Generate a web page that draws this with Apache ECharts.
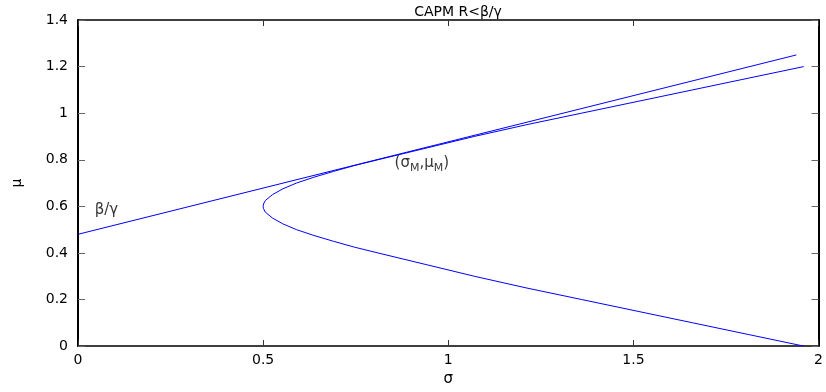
<!DOCTYPE html>
<html>
<head>
<meta charset="utf-8">
<script src="https://cdn.jsdelivr.net/npm/echarts@6/dist/echarts.min.js"></script>
<style>
  html, body { margin: 0; padding: 0; background: #fff; }
  #chart { width: 826px; height: 392px; }
</style>
</head>
<body>
<div id="chart"></div>
<script>
// efficient frontier (sigma, mu), lower branch first
const frontierSigma = [1.96, 1.81, 1.66, 1.51, 1.36, 1.21, 1.07, 0.94, 0.81, 0.746, 0.69, 0.637, 0.59, 0.553, 0.525, 0.506, 0.501, 0.50, 0.501, 0.506, 0.525, 0.553, 0.59, 0.637, 0.69, 0.746, 0.81, 0.94, 1.07, 1.21, 1.36, 1.51, 1.66, 1.81, 1.96];
const frontierMu    = [0.00, 0.05, 0.10, 0.15, 0.20, 0.25, 0.30, 0.35, 0.40, 0.425, 0.45, 0.475, 0.50, 0.525, 0.55, 0.575, 0.59, 0.60, 0.61, 0.625, 0.65, 0.675, 0.70, 0.725, 0.75, 0.775, 0.80, 0.85, 0.90, 0.95, 1.00, 1.05, 1.10, 1.15, 1.20];

// capital market line endpoints
const cmlSigma = [0, 1.94];
const cmlMu = [0.48, 1.25];

const xTicks = [0, 0.5, 1, 1.5, 2];
const yTicks = [0, 0.2, 0.4, 0.6, 0.8, 1, 1.2, 1.4];

// text annotations anchored in data units
const notes = [
  { text: "β/γ", sigma: 0.045, mu: 0.585 },
  { text: "(σ{s|M},μ{s|M})", sigma: 0.855, mu: 0.785 }
];

const font = "DejaVu Sans";
const chart = echarts.init(document.getElementById("chart"), null, { renderer: "canvas" });

const tickLabel = (v) => String(v);

const baseX = {
  type: "value",
  min: xTicks[0],
  max: xTicks[xTicks.length - 1],
  interval: 0.5,
  splitLine: { show: false },
  axisLine: { onZero: false, lineStyle: { color: "#000", width: 1.5 } },
  axisTick: { inside: true, length: 6, lineStyle: { color: "#333" } }
};
const baseY = {
  type: "value",
  min: yTicks[0],
  max: yTicks[yTicks.length - 1],
  interval: 0.2,
  splitLine: { show: false },
  axisLine: { onZero: false, lineStyle: { color: "#000", width: 2 } },
  axisTick: { inside: true, length: 7, lineStyle: { color: "#666" } }
};

chart.setOption({
  animation: false,
  backgroundColor: "#fff",
  title: {
    text: "CAPM R<β/γ",
    left: 453,
    top: 0,
    textAlign: "center",
    textStyle: { fontFamily: font, fontSize: 14, fontWeight: "normal", color: "#000" }
  },
  grid: { left: 78, right: 4, top: 20, bottom: 40 },
  xAxis: [
    Object.assign({}, baseX, {
      position: "bottom",
      name: "σ",
      nameLocation: "middle",
      nameGap: 22,
      nameTextStyle: { fontFamily: font, fontSize: 15, color: "#000" },
      axisLabel: { fontFamily: font, fontSize: 14, color: "#000", margin: 7, formatter: tickLabel }
    }),
    Object.assign({}, baseX, { position: "top", axisLabel: { show: false } })
  ],
  yAxis: [
    Object.assign({}, baseY, {
      position: "left",
      name: "μ",
      nameLocation: "middle",
      nameRotate: 90,
      nameGap: 54,
      nameTextStyle: { fontFamily: font, fontSize: 14, color: "#000" },
      axisLabel: { fontFamily: font, fontSize: 14, color: "#000", margin: 10, formatter: tickLabel }
    }),
    Object.assign({}, baseY, { position: "right", axisLabel: { show: false } })
  ],
  series: [
    {
      type: "line",
      name: "frontier",
      data: frontierSigma.map((s, i) => [s, frontierMu[i]]),
      smooth: false,
      showSymbol: false,
      lineStyle: { color: "#0000ff", width: 1 }
    },
    {
      type: "line",
      name: "CML",
      data: cmlSigma.map((s, i) => [s, cmlMu[i]]),
      showSymbol: false,
      lineStyle: { color: "#0000ff", width: 1 }
    },
    {
      type: "scatter",
      name: "notes",
      symbolSize: 0,
      silent: true,
      data: notes.map((n) => ({ value: [n.sigma, n.mu], text: n.text })),
      label: {
        show: true,
        position: "right",
        distance: 0,
        formatter: (p) => p.data.text,
        fontFamily: font,
        fontSize: 15,
        color: "#000",
        rich: {
          s: { fontFamily: font, fontSize: 11, color: "#000", padding: [9, 0, 0, 0] }
        }
      }
    }
  ]
});
</script>
</body>
</html>
